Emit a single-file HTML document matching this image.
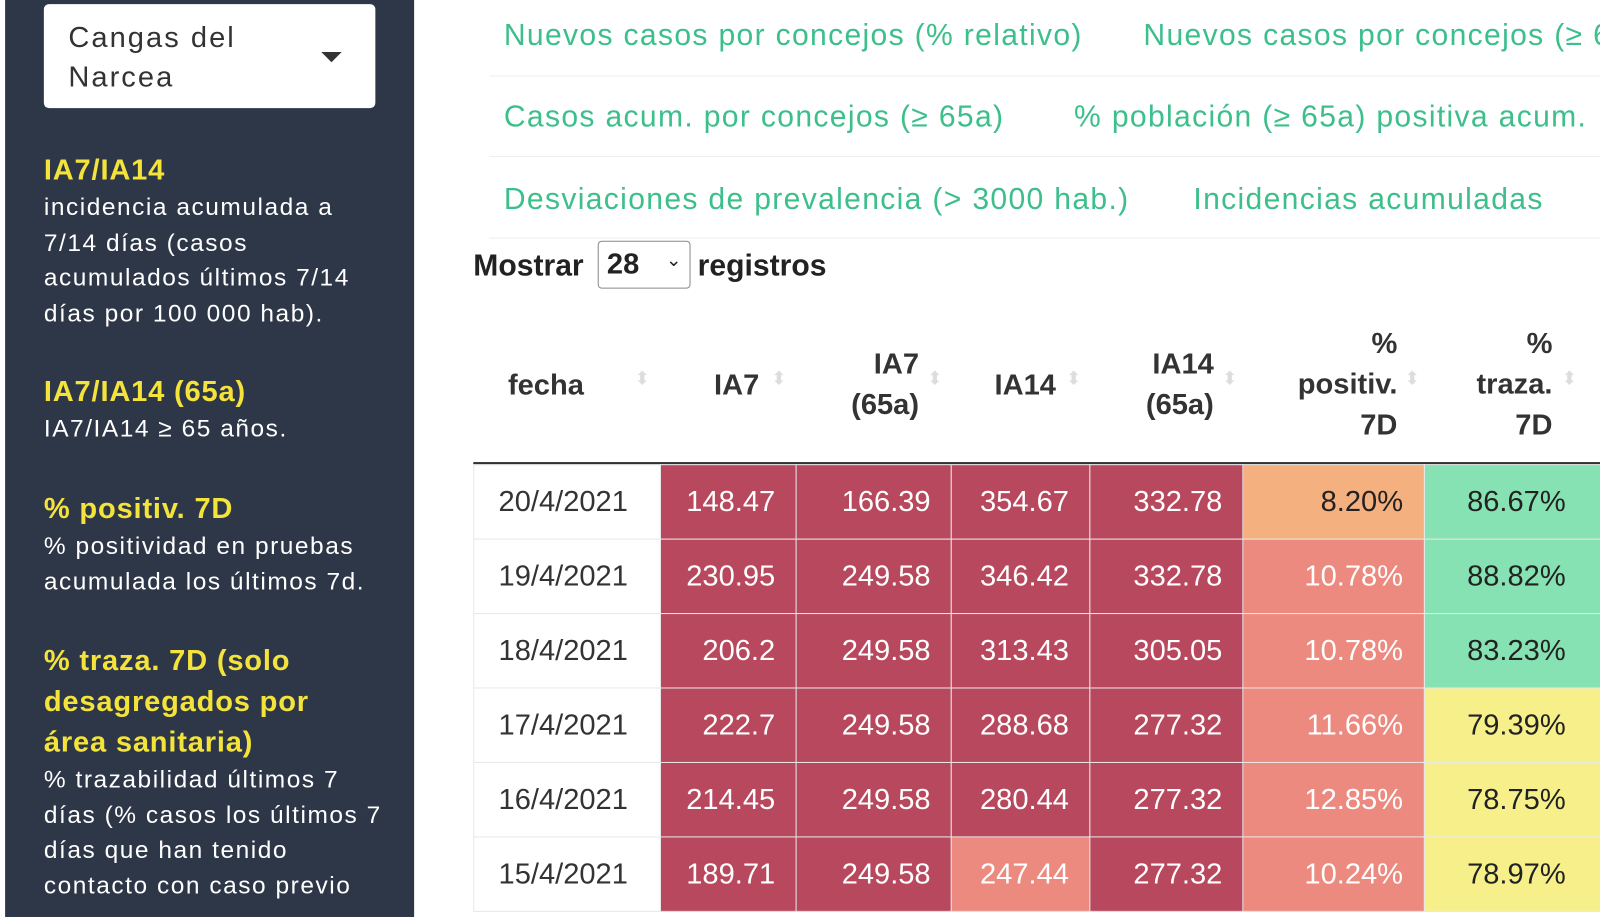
<!DOCTYPE html>
<html><head><meta charset="utf-8"><style>
*{margin:0;padding:0;box-sizing:border-box}
body{width:1600px;height:899px;overflow:hidden;background:#fff;font-family:"Liberation Sans",sans-serif;position:relative}
#w{position:absolute;left:0;top:0;width:1600px;height:899px;transform:scale(1.02);transform-origin:0 0}
.side{position:absolute;left:5px;top:0;width:401px;height:899px;background:#2e3748}
.sel{position:absolute;left:43px;top:4px;width:325px;height:102px;background:#fff;border-radius:5px;color:#333;font-size:28.5px;line-height:39px;padding:14px 24px;letter-spacing:2px}
.sel .car{position:absolute;left:272px;top:47px;width:0;height:0;border-left:10px solid transparent;border-right:10px solid transparent;border-top:10px solid #333}
.sd{position:absolute;left:43px;color:#fff;font-size:24px;line-height:34.7px;width:360px;letter-spacing:1.5px;white-space:nowrap}
.sd b{color:#f4e33a;font-size:28.5px;display:block;line-height:40px;letter-spacing:0.8px}
.tab{position:absolute;color:#3dbf8c;font-size:29.5px;white-space:nowrap;letter-spacing:1.3px}
.hr{position:absolute;left:480px;width:1120px;height:1px;background:#eee}
.t{position:absolute;font-size:29.5px;font-weight:bold;color:#222}
table{position:absolute;left:464px;top:455px;border-collapse:collapse;font-size:28.5px}
td{height:73px;border:1px solid #e8e8e8;text-align:right;padding-right:20px;color:#fff}
td:first-child{color:#333;text-align:center;padding:0 8px 0 0;background:#fff}
.r{background:#b8485e}.s{background:#ec8a80}.o{background:#f4b07f;color:#222}.g{background:#86e2b2;color:#222}.y{background:#f7f08a;color:#222}
td.g,td.y{padding-right:64px}
.h{position:absolute;font-size:28.5px;font-weight:bold;color:#333;text-align:right;line-height:40px}
.ar{position:absolute;color:#ddd;font-size:18px;line-height:14px}
</style></head><body><div id="w">
<div class="side"></div>
<div class="sel">Cangas del<br>Narcea<div class="car"></div></div>
<div class="sd" style="top:147px"><b>IA7/IA14</b>incidencia acumulada a<br>7/14 días (casos<br>acumulados últimos 7/14<br>días por 100 000 hab).</div>
<div class="sd" style="top:364px"><b>IA7/IA14 (65a)</b>IA7/IA14 ≥ 65 años.</div>
<div class="sd" style="top:479px"><b>% positiv. 7D</b>% positividad en pruebas<br>acumulada los últimos 7d.</div>
<div class="sd" style="top:628px"><b>% traza. 7D (solo<br>desagregados por<br>área sanitaria)</b>% trazabilidad últimos 7<br>días (% casos los últimos 7<br>días que han tenido<br>contacto con caso previo</div>
<div class="tab" style="left:494px;top:18px">Nuevos casos por concejos (% relativo)</div>
<div class="tab" style="left:1121px;top:18px">Nuevos casos por concejos (≥ 65a)</div>
<div class="hr" style="top:74px"></div>
<div class="tab" style="left:494px;top:98px">Casos acum. por concejos (≥ 65a)</div>
<div class="tab" style="left:1053px;top:98px">% población (≥ 65a) positiva acum.</div>
<div class="hr" style="top:153px"></div>
<div class="tab" style="left:494px;top:179px">Desviaciones de prevalencia (&gt; 3000 hab.)</div>
<div class="tab" style="left:1170px;top:179px">Incidencias acumuladas</div>
<div class="hr" style="top:233px"></div>
<div class="t" style="left:464px;top:244px">Mostrar</div>
<div style="position:absolute;left:586px;top:236px;width:91px;height:47px;border:1px solid #888;border-radius:4px;font-size:28.5px;font-weight:bold;padding:6px 8px;color:#222">28<span style="position:absolute;right:8px;top:8px;font-size:18px;font-weight:normal">⌄</span></div>
<div class="t" style="left:684px;top:244px">registros</div>
<div class="h" style="left:498px;top:358px">fecha</div>
<div class="h" style="left:700px;top:358px">IA7</div>
<div class="h" style="left:811px;top:337px;width:90px">IA7<br>(65a)</div>
<div class="h" style="left:975px;top:358px">IA14</div>
<div class="h" style="left:1100px;top:337px;width:90px">IA14<br>(65a)</div>
<div class="h" style="left:1250px;top:317px;width:120px">%<br>positiv.<br>7D</div>
<div class="h" style="left:1428px;top:317px;width:94px">%<br>traza.<br>7D</div>
<div class="ar" style="left:622px;top:364px">⬍</div><div class="ar" style="left:756px;top:364px">⬍</div><div class="ar" style="left:909px;top:364px">⬍</div><div class="ar" style="left:1045px;top:364px">⬍</div><div class="ar" style="left:1198px;top:364px">⬍</div><div class="ar" style="left:1377px;top:364px">⬍</div><div class="ar" style="left:1531px;top:364px">⬍</div>
<div style="position:absolute;left:464px;top:453px;width:1136px;height:3px;background:#333"></div>
<table>
<colgroup><col style="width:184px"><col style="width:133px"><col style="width:153px"><col style="width:136px"><col style="width:151px"><col style="width:178px"><col style="width:204px"></colgroup>
<tr><td>20/4/2021</td><td class="r">148.47</td><td class="r">166.39</td><td class="r">354.67</td><td class="r">332.78</td><td class="o">8.20%</td><td class="g">86.67%</td></tr>
<tr><td>19/4/2021</td><td class="r">230.95</td><td class="r">249.58</td><td class="r">346.42</td><td class="r">332.78</td><td class="s">10.78%</td><td class="g">88.82%</td></tr>
<tr><td>18/4/2021</td><td class="r">206.2</td><td class="r">249.58</td><td class="r">313.43</td><td class="r">305.05</td><td class="s">10.78%</td><td class="g">83.23%</td></tr>
<tr><td>17/4/2021</td><td class="r">222.7</td><td class="r">249.58</td><td class="r">288.68</td><td class="r">277.32</td><td class="s">11.66%</td><td class="y">79.39%</td></tr>
<tr><td>16/4/2021</td><td class="r">214.45</td><td class="r">249.58</td><td class="r">280.44</td><td class="r">277.32</td><td class="s">12.85%</td><td class="y">78.75%</td></tr>
<tr><td>15/4/2021</td><td class="r">189.71</td><td class="r">249.58</td><td class="s">247.44</td><td class="r">277.32</td><td class="s">10.24%</td><td class="y">78.97%</td></tr>
</table>
</div></body></html>
